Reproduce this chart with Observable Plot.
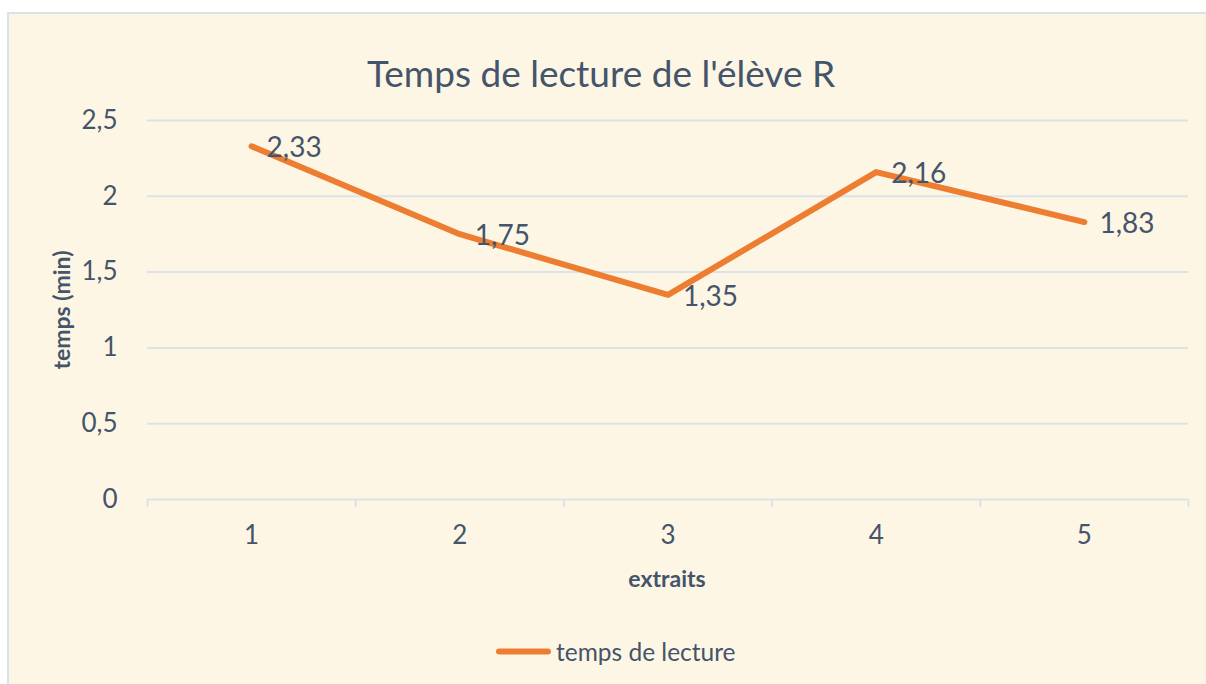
<!DOCTYPE html>
<html>
<head>
<meta charset="utf-8">
<script src="https://cdn.jsdelivr.net/npm/d3@7"></script>
<script src="https://cdn.jsdelivr.net/npm/@observablehq/plot@0.6"></script>
<style>
  html, body { margin: 0; padding: 0; background: #ffffff; }
  body { width: 1206px; height: 684px; position: relative; overflow: hidden; font-family: Lato, "Open Sans", sans-serif; color: #44546A; }
  #panel { position: absolute; left: 7px; top: 12px; width: 1205px; height: 680px; background: #FEF6E4; border-left: 2px solid #DCE2EA; border-top: 2px solid #DCE2EA; }
  #chart { position: absolute; left: 0; top: 0; }
  .abs { position: absolute; white-space: nowrap; }
  #title { left: 601px; top: 72px; transform: translate(-50%, -50%); font-size: 37px; }
  #ylabel { left: 61px; top: 310px; transform: translate(-50%, -50%) rotate(-90deg); font-size: 23px; font-weight: bold; }
  #xlabel { left: 667px; top: 578px; transform: translate(-50%, -50%); font-size: 23px; font-weight: bold; }
  #legend { left: 496px; top: 651px; transform: translate(0, -50%); display: flex; align-items: center; font-size: 24.5px; }
  #legend .sw { width: 55px; height: 6px; border-radius: 3px; background: #ED7D31; margin-right: 5px; }
</style>
</head>
<body>
<div id="panel"></div>
<div id="chart"></div>
<div id="title" class="abs">Temps de lecture de l'élève R</div>
<div id="ylabel" class="abs">temps (min)</div>
<div id="xlabel" class="abs">extraits</div>
<div id="legend" class="abs"><span class="sw"></span><span id="legendText">temps de lecture</span></div>
<script>
const extraits = [1, 2, 3, 4, 5];
const temps = [2.33, 1.75, 1.35, 2.16, 1.83];
const yTicks = [0, 0.5, 1, 1.5, 2, 2.5];
const seriesName = "temps de lecture";

const data = extraits.map((e, i) => ({extrait: e, temps: temps[i]}));
const boundaries = [extraits[0] - 0.5, ...extraits.map(e => e + 0.5)];
const fmt = d => String(d).replace(".", ",");

const chart = Plot.plot({
  width: 1206,
  height: 684,
  marginLeft: 147,
  marginRight: 18,
  marginTop: 120,
  marginBottom: 185,
  style: {background: "transparent", fontFamily: "Lato, 'Open Sans', sans-serif", color: "#44546A", overflow: "visible"},
  x: {domain: [boundaries[0], boundaries[boundaries.length - 1]]},
  y: {domain: [0, 2.5]},
  marks: [
    Plot.gridY(yTicks, {stroke: "#DCE2EA", strokeOpacity: 1, strokeWidth: 2}),
    Plot.axisY(yTicks, {tickSize: 0, tickPadding: 30, tickFormat: fmt, fontSize: 26, label: null, fill: "#44546A"}),
    Plot.axisX(boundaries, {tickSize: 8, tickFormat: () => "", stroke: "#DCE2EA", strokeWidth: 2, label: null}),
    Plot.axisX(extraits, {tickSize: 0, tickPadding: 26, fontSize: 26, label: null, fill: "#44546A", tickFormat: d => String(d)}),
    Plot.lineY(data, {x: "extrait", y: "temps", stroke: "#ED7D31", strokeWidth: 6, strokeLinecap: "round", strokeLinejoin: "round"}),
    Plot.text(data, {x: "extrait", y: "temps", text: d => fmt(d.temps), textAnchor: "start", dx: 15, dy: 2, fontSize: 28, fill: "#44546A"})
  ]
});
document.getElementById("chart").appendChild(chart);
document.getElementById("legendText").textContent = seriesName;
</script>
</body>
</html>
